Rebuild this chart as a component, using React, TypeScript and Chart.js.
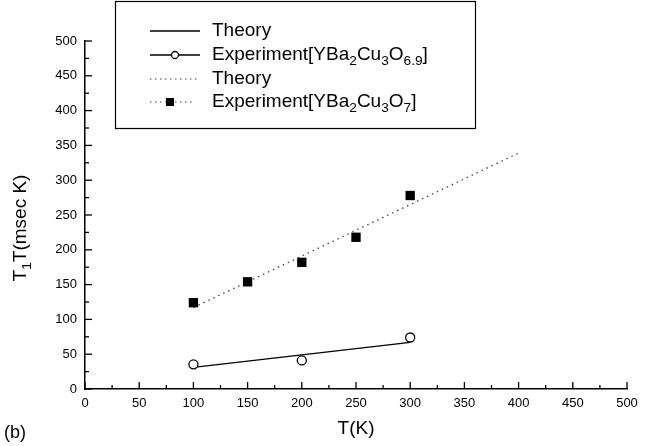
import React, { useEffect, useRef } from "react";
import { Chart, registerables } from "chart.js";

Chart.register(...registerables);

// ---- data ----
const sqTemps = [100, 150, 200, 250, 300];
const sqValues = [124, 154, 182, 218, 278]; // Experiment [YBa2Cu3O7]
const circTemps = [100, 200, 300];
const circValues = [35.5, 41, 74]; // Experiment [YBa2Cu3O6.9]
const theorySolidT = [100, 300];
const theorySolidV = [31, 67];
const theoryDotT = [100, 400];
const theoryDotV = [117, 339];
const xTicks = [0, 50, 100, 150, 200, 250, 300, 350, 400, 450, 500];
const yTicks = [0, 50, 100, 150, 200, 250, 300, 350, 400, 450, 500];

const FONT = "'Liberation Sans', Arial, Helvetica, sans-serif";

const pts = (xs: number[], ys: number[]) => xs.map((x, i) => ({ x, y: ys[i] }));

type Part = { t: string; sub?: boolean };

function drawRich(ctx: CanvasRenderingContext2D, parts: Part[], x: number, y: number, size: number) {
  let cx = x;
  for (const p of parts) {
    const s = p.sub ? size * 0.72 : size;
    ctx.font = `${s}px ${FONT}`;
    ctx.fillText(p.t, cx, p.sub ? y + size * 0.33 : y);
    cx += ctx.measureText(p.t).width;
  }
  return cx - x;
}

function richWidth(ctx: CanvasRenderingContext2D, parts: Part[], size: number) {
  let w = 0;
  for (const p of parts) {
    const s = p.sub ? size * 0.72 : size;
    ctx.font = `${s}px ${FONT}`;
    w += ctx.measureText(p.t).width;
  }
  return w;
}

const decor = {
  id: "decor",
  afterDraw(chart: any) {
    const ctx: CanvasRenderingContext2D = chart.ctx;
    const xs = chart.scales.x;
    const ys = chart.scales.y;
    const area = chart.chartArea;
    ctx.save();
    // inward ticks
    ctx.strokeStyle = "#000";
    ctx.lineWidth = 1.3;
    for (let v = 0; v <= 500; v += 25) {
      const major = v % 50 === 0;
      const len = major ? 7 : 4;
      const px = xs.getPixelForValue(v);
      ctx.beginPath();
      ctx.moveTo(px, area.bottom);
      ctx.lineTo(px, area.bottom - len);
      ctx.stroke();
      const py = ys.getPixelForValue(v);
      ctx.beginPath();
      ctx.moveTo(area.left, py);
      ctx.lineTo(area.left + len, py);
      ctx.stroke();
    }
    ctx.fillStyle = "#000";
    ctx.textBaseline = "middle";
    // x title
    ctx.font = `19px ${FONT}`;
    ctx.textAlign = "center";
    ctx.fillText("T(K)", (area.left + area.right) / 2, 429);
    // (b)
    ctx.textAlign = "left";
    ctx.font = `18px ${FONT}`;
    ctx.fillText("(b)", 4, 433);
    // y title (rotated)
    const yParts: Part[] = [{ t: "T" }, { t: "1", sub: true }, { t: "T(msec K)" }];
    const yw = richWidth(ctx, yParts, 19);
    ctx.save();
    ctx.translate(21, 228);
    ctx.rotate(-Math.PI / 2);
    ctx.textAlign = "left";
    drawRich(ctx, yParts, -yw / 2, 0, 19);
    ctx.restore();

    // legend box
    ctx.lineWidth = 1.2;
    ctx.strokeStyle = "#000";
    ctx.strokeRect(115.5, 1.5, 360, 127);
    const rows = [31, 55, 79, 102];
    const x0 = 150, x1 = 200, tx = 212;
    // row 1: solid theory
    ctx.setLineDash([]);
    ctx.lineWidth = 1.3;
    ctx.beginPath(); ctx.moveTo(x0, rows[0]); ctx.lineTo(x1, rows[0]); ctx.stroke();
    // row 2: solid with circle
    ctx.beginPath(); ctx.moveTo(x0, rows[1]); ctx.lineTo(x1, rows[1]); ctx.stroke();
    ctx.beginPath(); ctx.arc(175, rows[1], 3.5, 0, Math.PI * 2);
    ctx.fillStyle = "#fff"; ctx.fill(); ctx.stroke();
    ctx.fillStyle = "#000";
    // row 3: dotted
    ctx.setLineDash([1.5, 3.5]);
    ctx.lineWidth = 1.2;
    ctx.strokeStyle = "#444";
    ctx.beginPath(); ctx.moveTo(x0, rows[2]); ctx.lineTo(x1, rows[2]); ctx.stroke();
    // row 4: dotted with square
    ctx.beginPath(); ctx.moveTo(x0, rows[3]); ctx.lineTo(x1 - 5, rows[3]); ctx.stroke();
    ctx.setLineDash([]);
    ctx.fillRect(166, rows[3] - 4, 8, 8);

    ctx.textAlign = "left";
    const size = 19;
    drawRich(ctx, [{ t: "Theory" }], tx, rows[0], size);
    drawRich(ctx, [{ t: "Experiment[YBa" }, { t: "2", sub: true }, { t: "Cu" }, { t: "3", sub: true }, { t: "O" }, { t: "6.9", sub: true }, { t: "]" }], tx, rows[1], size);
    drawRich(ctx, [{ t: "Theory" }], tx, rows[2], size);
    drawRich(ctx, [{ t: "Experiment[YBa" }, { t: "2", sub: true }, { t: "Cu" }, { t: "3", sub: true }, { t: "O" }, { t: "7", sub: true }, { t: "]" }], tx, rows[3], size);
    ctx.restore();
  },
};

export default function App() {
  const ref = useRef<HTMLCanvasElement | null>(null);
  useEffect(() => {
    document.body.style.margin = "0";
    const canvas = ref.current!;
    const chart = new Chart(canvas, {
      type: "scatter",
      data: {
        datasets: [
          {
            label: "Experiment[YBa2Cu3O7]",
            data: pts(sqTemps, sqValues),
            pointStyle: "rect",
            pointRadius: 6.6,
            backgroundColor: "#000",
            borderColor: "#000",
            borderWidth: 0,
            showLine: false,
          },
          {
            label: "Experiment[YBa2Cu3O6.9]",
            data: pts(circTemps, circValues),
            pointStyle: "circle",
            pointRadius: 4.5,
            backgroundColor: "#fff",
            borderColor: "#000",
            borderWidth: 1.3,
            showLine: false,
          },
          {
            label: "Theory (O6.9)",
            data: pts(theorySolidT, theorySolidV),
            showLine: true,
            pointRadius: 0,
            borderColor: "#000",
            borderWidth: 1.4,
          },
          {
            label: "Theory (O7)",
            data: pts(theoryDotT, theoryDotV),
            showLine: true,
            pointRadius: 0,
            borderColor: "#444",
            borderWidth: 1.3,
            borderDash: [1.5, 4],
          },
        ],
      },
      options: {
        animation: false,
        responsive: false,
        maintainAspectRatio: false,
        layout: { padding: { left: 0, top: 41, right: 35, bottom: 0 } },
        plugins: { legend: { display: false }, tooltip: { enabled: false } },
        scales: {
          x: {
            type: "linear",
            min: 0,
            max: 500,
            afterFit: (s: any) => { s.height = 57; },
            afterBuildTicks: (s: any) => { s.ticks = xTicks.map((v) => ({ value: v })); },
            grid: { display: false, drawTicks: false },
            border: { display: true, color: "#000", width: 1.5 },
            ticks: { color: "#000", font: { size: 13, family: FONT }, padding: 7, maxRotation: 0 },
          },
          y: {
            type: "linear",
            min: 0,
            max: 500,
            afterFit: (s: any) => { s.width = 85; },
            afterBuildTicks: (s: any) => { s.ticks = yTicks.map((v) => ({ value: v })); },
            grid: { display: false, drawTicks: false },
            border: { display: true, color: "#000", width: 1.5 },
            ticks: { color: "#000", font: { size: 13, family: FONT }, padding: 8 },
          },
        },
      },
      plugins: [decor],
    } as any);
    return () => chart.destroy();
  }, []);
  return (
    <div style={{ width: 662, height: 446 }}>
      <canvas ref={ref} width={662} height={446} style={{ display: "block" }} />
    </div>
  );
}
